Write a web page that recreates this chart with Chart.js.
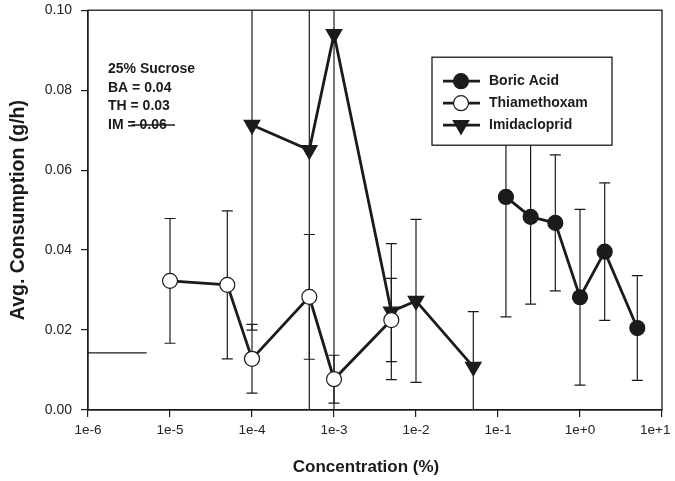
<!DOCTYPE html>
<html>
<head>
<meta charset="utf-8">
<script src="https://cdn.jsdelivr.net/npm/chart.js@4"></script>
<style>
  html, body { margin: 0; padding: 0; background: #fff; }
  #wrap { width: 675px; height: 481px; }
</style>
</head>
<body>
<div id="wrap"><canvas id="chart"></canvas></div>
<script>
// concentrations (%)
const boricX = [0.125, 0.25, 0.5, 1, 2, 5];
const boricY = [0.0533, 0.0483, 0.0468, 0.0282, 0.0396, 0.0205];
const boricErr = [0.030, 0.0218, 0.0170, 0.0220, 0.0172, 0.0131];

const thiaX = [1e-5, 5e-5, 1e-4, 5e-4, 1e-3, 5e-3];
const thiaY = [0.0323, 0.0313, 0.0128, 0.0283, 0.0077, 0.0225];
const thiaErr = [0.0156, 0.0185, 0.0086, 0.0156, 0.0060, 0.0104];

const imidX = [1e-4, 5e-4, 1e-3, 5e-3, 1e-2, 5e-2];
const imidY = [0.0713, 0.0650, 0.0940, 0.0246, 0.0273, 0.0108];
const imidErr = [0.0513, 0.0760, 0.1000, 0.0170, 0.0204, 0.0138];

// 25% sucrose reference segments
const sucroseX = [1e-6, 5.2e-6];
const sucroseY = [0.0143, 0.0143];
const imRefX = [3.4e-6, 1.15e-5];
const imRefY = [0.0713, 0.0713];

const xTicks = [1e-6, 1e-5, 1e-4, 1e-3, 1e-2, 1e-1, 1, 10];
const xTickLabels = ['1e-6', '1e-5', '1e-4', '1e-3', '1e-2', '1e-1', '1e+0', '1e+1'];
const yTicks = [0, 0.02, 0.04, 0.06, 0.08, 0.10];
const noteLines = ['25% Sucrose', 'BA = 0.04', 'TH = 0.03', 'IM = 0.06'];
const xTitle = 'Concentration (%)';

const ink = '#1b1b1b';
const FONT = '"Liberation Sans", Arial, sans-serif';

function pts(xs, ys) {
    return xs.map((x, i) => ({ x: x, y: ys[i] }));
}

const series = [
    { label: 'Boric Acid', xs: boricX, ys: boricY, err: boricErr, style: 'circle', fill: ink, radius: 7.5, rot: 0 },
    { label: 'Thiamethoxam', xs: thiaX, ys: thiaY, err: thiaErr, style: 'circle', fill: '#fff', radius: 7.5, rot: 0 },
    { label: 'Imidacloprid', xs: imidX, ys: imidY, err: imidErr, style: 'triangle', fill: ink, radius: 9, rot: 180 }
];

const datasets = series.map(s => ({
    label: s.label,
    data: pts(s.xs, s.ys),
    showLine: true,
    borderColor: ink,
    borderWidth: 2.8,
    pointStyle: s.style,
    pointRadius: s.radius,
    pointRotation: s.rot,
    pointBackgroundColor: s.fill,
    pointBorderColor: ink,
    pointBorderWidth: 1.2
}));
datasets.push({ label: 'ref1', data: pts(sucroseX, sucroseY), showLine: true, borderColor: ink, borderWidth: 1.4, pointRadius: 0 });
datasets.push({ label: 'ref2', data: pts(imRefX, imRefY), showLine: true, borderColor: ink, borderWidth: 1.4, pointRadius: 0 });

const errorBars = {
    id: 'errorBars',
    beforeDatasetsDraw(chart) {
        const ctx = chart.ctx, a = chart.chartArea;
        const xs = chart.scales.x, ys = chart.scales.y;
        ctx.save();
        ctx.beginPath();
        ctx.rect(a.left, a.top, a.right - a.left, a.bottom - a.top);
        ctx.clip();
        ctx.strokeStyle = ink;
        ctx.lineWidth = 1.2;
        series.forEach(s => {
            s.xs.forEach((xv, i) => {
                const px = xs.getPixelForValue(xv);
                const hi = ys.getPixelForValue(s.ys[i] + s.err[i]);
                const lo = ys.getPixelForValue(s.ys[i] - s.err[i]);
                ctx.beginPath();
                ctx.moveTo(px, hi); ctx.lineTo(px, lo);
                ctx.moveTo(px - 5.5, hi); ctx.lineTo(px + 5.5, hi);
                ctx.moveTo(px - 5.5, lo); ctx.lineTo(px + 5.5, lo);
                ctx.stroke();
            });
        });
        ctx.restore();
    },
    afterDraw(chart) {
        const ctx = chart.ctx, a = chart.chartArea;
        ctx.save();
        // frame
        ctx.strokeStyle = ink;
        ctx.lineWidth = 1.3;
        ctx.strokeRect(a.left, a.top, a.right - a.left, a.bottom - a.top);

        // x axis title (sits a bit left of centre in the original)
        ctx.fillStyle = ink;
        ctx.font = 'bold 17px ' + FONT;
        ctx.textAlign = 'center';
        ctx.textBaseline = 'middle';
        ctx.fillText(xTitle, (a.left + a.right) / 2 - 9, a.bottom + 57);

        // note text
        ctx.textAlign = 'left';
        ctx.font = 'bold 14px ' + FONT;
        noteLines.forEach((t, i) => ctx.fillText(t, a.left + 20, a.top + 59 + i * 18.7));

        // legend box
        const lx = a.left + 344, ly = a.top + 47, lw = 180, lh = 88;
        ctx.fillStyle = '#fff';
        ctx.fillRect(lx, ly, lw, lh);
        ctx.strokeStyle = ink;
        ctx.lineWidth = 1.3;
        ctx.strokeRect(lx, ly, lw, lh);
        series.forEach((s, i) => {
            const y = ly + 24 + i * 22;
            ctx.strokeStyle = ink;
            ctx.lineWidth = 2.8;
            ctx.beginPath();
            ctx.moveTo(lx + 11, y); ctx.lineTo(lx + 48, y);
            ctx.stroke();
            ctx.lineWidth = 1.2;
            ctx.fillStyle = s.fill;
            Chart.helpers.drawPoint(ctx, {
                pointStyle: s.style, radius: s.radius, rotation: s.rot, borderWidth: 1.2
            }, lx + 29, y);
            ctx.fillStyle = ink;
            ctx.fillText(s.label, lx + 57, y);
        });
        ctx.restore();
    }
};

new Chart(document.getElementById('chart').getContext('2d'), {
    type: 'scatter',
    data: { datasets: datasets },
    options: {
        responsive: true,
        maintainAspectRatio: false,
        animation: false,
        layout: { padding: { top: 10, right: 0, left: 0, bottom: 0 } },
        plugins: { legend: { display: false }, tooltip: { enabled: false } },
        scales: {
            x: {
                type: 'logarithmic',
                min: 1e-6,
                max: 10,
                afterBuildTicks(scale) { scale.ticks = xTicks.map(v => ({ value: v })); },
                afterFit(scale) {
                    scale.height = 71;
                    scale.paddingRight = 13;
                    scale.paddingLeft = 0;
                },
                ticks: {
                    autoSkip: false,
                    maxRotation: 0,
                    padding: 5,
                    color: '#222',
                    font: { family: FONT, size: 13.5 },
                    // last label is pulled in so it stays on the page
                    callback: (v, i) => i === xTickLabels.length - 1 ? xTickLabels[i] + '\u2003' : xTickLabels[i]
                },
                grid: { drawOnChartArea: false, tickLength: 7, color: ink, lineWidth: 1.2 },
                border: { color: ink, width: 1.3 },
                title: { display: false }
            },
            y: {
                min: 0,
                max: 0.1,
                afterBuildTicks(scale) { scale.ticks = yTicks.map(v => ({ value: v })); },
                afterFit(scale) {
                    scale.width = 88;
                    scale.paddingTop = 0;
                    scale.paddingBottom = 0;
                },
                ticks: {
                    padding: 9,
                    color: '#222',
                    font: { family: FONT, size: 14 },
                    callback: v => v.toFixed(2)
                },
                grid: { drawOnChartArea: false, tickLength: 7, color: ink, lineWidth: 1.2 },
                border: { color: ink, width: 1.3 },
                title: {
                    display: true,
                    text: 'Avg. Consumption (g/h)',
                    color: ink,
                    font: { family: FONT, size: 19.5, weight: 'bold' },
                    padding: { top: 7, bottom: 10 }
                }
            }
        }
    },
    plugins: [errorBars]
});
</script>
</body>
</html>
